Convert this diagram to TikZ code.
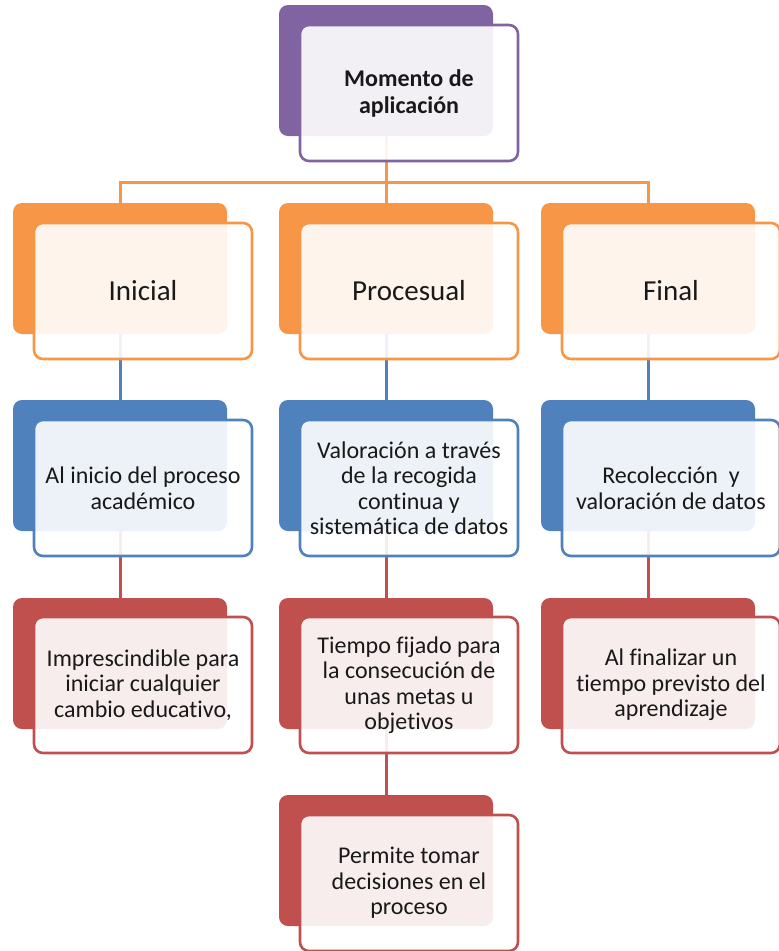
\documentclass[tikz,border=0pt]{standalone}
\usepackage{fontspec}
\setmainfont{Carlito}[Ligatures=NoCommon]
\definecolor{cpurple}{HTML}{8064A2}
\definecolor{corange}{HTML}{F79646}
\definecolor{cblue}{HTML}{4F81BD}
\definecolor{cred}{HTML}{C0504D}
\tikzset{
  backbox/.style={rounded corners=9pt, fill=#1, draw=none, minimum width=214pt,
    minimum height=131pt, anchor=north west, inner sep=0pt, outer sep=0pt},
  frontbox/.style={rounded corners=9pt, draw=#1, line width=2.6pt, fill=white,
    fill opacity=0.9, text opacity=1, minimum width=218pt, minimum height=136pt,
    anchor=north west, align=center, inner sep=0pt, outer sep=0pt,
    font=\fontsize{24}{25.5}\selectfont, text=black!90},
  conn/.style={draw=#1, line width=3pt},
  bigtxt/.style={font=\fontsize{29}{32}\selectfont},
  titletxt/.style={font=\fontsize{24}{27}\selectfont\bfseries},
}
\begin{document}
\begin{tikzpicture}[x=1pt,y=-1pt]
\useasboundingbox (0,0) rectangle (779,951);
% back boxes
\node[backbox=cpurple] (topb) at (279,5) {};
\node[backbox=corange] (inib) at (13,203) {};
\node[backbox=corange] (prob) at (279,203) {};
\node[backbox=corange] (finb) at (541,203) {};
\node[backbox=cblue] (b1b) at (13,400) {};
\node[backbox=cblue] (b2b) at (279,400) {};
\node[backbox=cblue] (b3b) at (541,400) {};
\node[backbox=cred] (r1b) at (13,598) {};
\node[backbox=cred] (r2b) at (279,598) {};
\node[backbox=cred] (r3b) at (541,598) {};
\node[backbox=cred] (r4b) at (279,795) {};
% connectors
\coordinate (bus) at (0,182);
\draw[conn=corange] (topb.south) -- (prob.north);
\draw[conn=corange] (inib.north) |- (finb.north |- bus) -- (finb.north);
\draw[conn=cblue] (inib.south) -- (b1b.north);
\draw[conn=cblue] (prob.south) -- (b2b.north);
\draw[conn=cblue] (finb.south) -- (b3b.north);
\draw[conn=cred] (b1b.south) -- (r1b.north);
\draw[conn=cred] (b2b.south) -- (r2b.north);
\draw[conn=cred] (b3b.south) -- (r3b.north);
\draw[conn=cred] (r2b.south) -- (r4b.north);
% front boxes
\node[frontbox=cpurple, titletxt] (top) at (300,25) {Momento de\\aplicación};
\node[frontbox=corange, bigtxt] (ini) at (34,223) {Inicial};
\node[frontbox=corange, bigtxt] (pro) at (300,223) {Procesual};
\node[frontbox=corange, bigtxt] (fin) at (562,223) {Final};
\node[frontbox=cblue] (b1) at (34,420) {Al inicio del proceso\\académico};
\node[frontbox=cblue] (b2) at (300,420) {Valoración a través\\de la recogida\\continua y\\sistemática de datos};
\node[frontbox=cblue] (b3) at (562,420) {Recolección\ \ y\\valoración de datos};
\node[frontbox=cred] (r1) at (34,617) {Imprescindible para\\iniciar cualquier\\cambio educativo,};
\node[frontbox=cred] (r2) at (300,617) {Tiempo fijado para\\la consecución de\\unas metas u\\objetivos};
\node[frontbox=cred] (r3) at (562,617) {Al finalizar un\\tiempo previsto del\\aprendizaje};
\node[frontbox=cred] (r4) at (300,815) {Permite tomar\\decisiones en el\\proceso};
\end{tikzpicture}
\end{document}
